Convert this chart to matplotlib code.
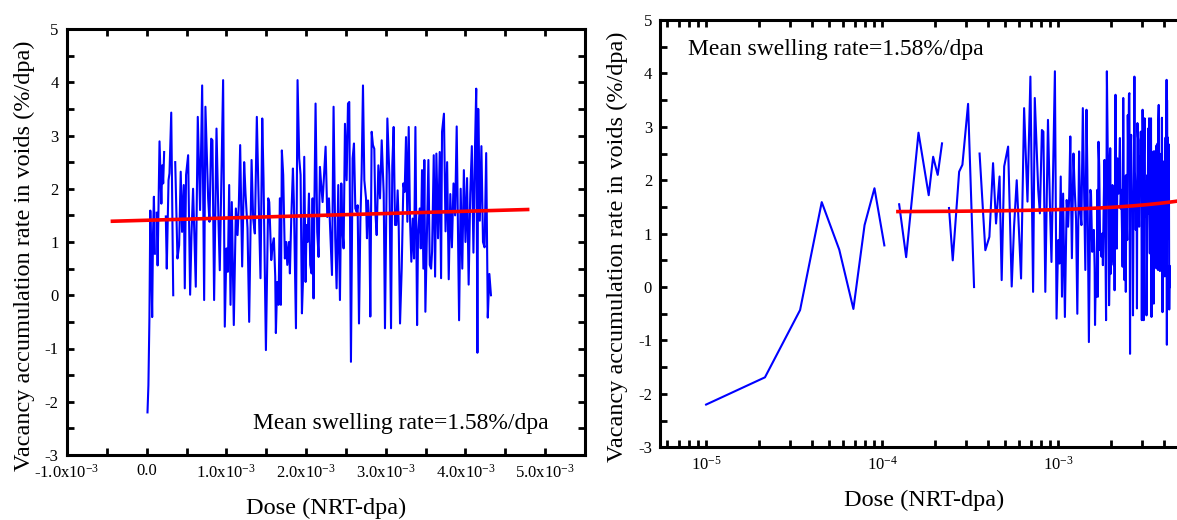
import numpy as np
import matplotlib
matplotlib.use("Agg")
import matplotlib.pyplot as plt
from matplotlib.ticker import FixedLocator, FixedFormatter, MultipleLocator, LogLocator, NullFormatter

plt.rcParams['font.family'] = ['Liberation Serif', 'DejaVu Serif']
plt.rcParams['mathtext.fontset'] = 'custom'
plt.rcParams['mathtext.rm'] = 'Liberation Serif'
plt.rcParams['mathtext.it'] = 'Liberation Serif:italic'
plt.rcParams['axes.unicode_minus'] = False

# ---- data (dose in units of 1e-3 NRT-dpa, rate in %/dpa); NaN = gap ----
dose_milli = [
    0.0100, 0.0216, 0.0342, 0.0454, 0.0571, 0.0687, 0.0795, 0.0905, 0.1030, 0.1140,
    0.1250, 0.1370, 0.1610, 0.1840, 0.1950, 0.2070, 0.2190, 0.2300, 0.2400, 0.2520,
    0.2740, 0.2860, 0.3080, 0.3330, 0.3450, 0.3580,
    0.386, 0.407, 0.427, 0.444, 0.465, 0.478, 0.494, 0.520, 0.545, 0.562,
    0.582, 0.616, 0.641, 0.670, 0.696, 0.721, 0.737, 0.771, 0.788, 0.809,
    0.825, 0.846, 0.876, 0.901, 0.917,
    0.959, 0.980, 1.001, 1.018, 1.035, 1.052, 1.068, 1.093, 1.119, 1.140,
    1.156, 1.173, 1.198, 1.223, 1.240, 1.265, 1.286, 1.316, 1.336, 1.357,
    1.382, 1.408, 1.428, 1.450, 1.466, 1.496, 1.525, 1.538, 1.563, 1.580,
    1.596, 1.613, 1.621, 1.638, 1.655, 1.671, 1.684, 1.696, 1.713, 1.734,
    1.751, 1.764, 1.785, 1.797, 1.814, 1.835, 1.847, 1.873, 1.893,
    1.914, 1.931, 1.948, 1.960, 1.977, 1.994, 2.006, 2.019, 2.036, 2.052,
    2.069, 2.082, 2.094, 2.103, 2.119, 2.140, 2.157, 2.174, 2.190, 2.207,
    2.228, 2.245, 2.266, 2.287, 2.303, 2.325, 2.345, 2.366, 2.383, 2.404,
    2.425, 2.442, 2.455, 2.471, 2.488, 2.509, 2.526, 2.542, 2.563, 2.584,
    2.601, 2.618, 2.634, 2.647, 2.664, 2.681, 2.697, 2.714, 2.731, 2.752,
    2.764, 2.777, 2.794, 2.806, 2.823, 2.839,
    2.856, 2.869, 2.886, 2.907, 2.928, 2.949, 2.974, 2.990, 3.020, 3.045,
    3.066, 3.082, 3.099, 3.116, 3.133, 3.149, 3.162, 3.179, 3.200, 3.221,
    3.237, 3.254, 3.271, 3.288, 3.304, 3.321, 3.338, 3.355, 3.372, 3.393,
    3.405, 3.426, 3.439, 3.455, 3.472, 3.484, 3.497, 3.514, 3.535, 3.552,
    3.569, 3.581, 3.602, 3.619, 3.635, 3.656, 3.677, 3.694, 3.706,
    3.730, 3.750, 3.770, 3.790, 3.810, 3.830, 3.850, 3.870, 3.890, 3.920,
    3.940, 3.960, 3.980, 4.000, 4.020, 4.040, 4.060, 4.080, 4.100, 4.120,
    4.135, 4.150, 4.160, 4.180, 4.200, 4.220, 4.240, 4.260, 4.280, 4.300,
    4.320,
]
rate = [
    -2.20, -1.69, -0.43, 1.59, 0.70, -0.41, 1.16, 1.85, 0.78, np.nan,
    1.55, 0.56, 2.89, 1.72, 2.44, 2.10, 2.69, np.nan, 1.48, 0.50,
    2.16, 2.29, 3.43, 0.00, np.nan, 2.50,
    0.69, 0.94, 2.32, 1.19, 2.07, 0.13, 2.26, 2.63, 0.01, 1.13,
    2.00, 0.16, 3.35, 1.60, 3.94, -0.09, 3.54, 1.82, 1.38, 2.94,
    2.91, -0.09, 3.13, 1.38, 0.47,
    4.04, -0.59, 0.88, 0.44, 2.07, -0.18, 1.75, -0.56, 1.63, 1.13,
    1.69, 2.82, 0.54, 2.50, 1.91, 1.26, -0.50, 2.54, 1.44, 1.16,
    3.35, 1.57, 0.32, 3.32, 2.19, -1.03, 1.82, 1.75, 0.66, 0.94,
    1.07, 0.35, -0.71, 0.25, -0.18, 1.82, -0.18, 2.72, 2.26, 0.69,
    1.00, 0.57, 1.00, 0.41, 1.44, 2.38, 1.75, -0.62, 4.04,
    2.57, 2.26, -0.34, 0.22, 2.60, 0.25, 1.32, 1.00, 1.91, 0.57,
    0.41, 1.82, -0.06, 1.50, 3.60, 1.19, 0.72, 2.41, 2.07, 1.75,
    2.32, 2.79, 1.47, 1.82, 1.22, 0.38, 3.54, 1.07, 0.13, 2.07,
    -0.09, 2.10, 1.26, 0.88, 3.22, 2.16, 3.60, 3.63, -1.25, 2.57,
    2.85, 1.63, 1.57, 1.69, -0.53, 1.38, 2.29, 3.94, 2.16, 1.82,
    1.07, 1.78, 1.35, -0.40, 3.07, 2.82,
    2.75, 1.57, 1.13, 2.44, 1.82, 2.91, 1.91, -0.62, 3.32, 2.26,
    -0.62, 2.44, 3.16, 1.32, 1.32, 1.97, 1.35, -0.53, 0.50, 2.10,
    1.94, 2.97, 1.38, 3.16, 1.44, 0.63, 1.44, 0.69, 3.16, -0.56,
    1.13, 1.63, 0.88, 2.35, 0.50, 2.54, -0.31, 0.94, 2.54, 0.57,
    0.50, 0.82, 2.63, 0.35, 2.66, 1.07, 2.69, 0.32, 3.07,
    3.41, 1.20, 2.50, 0.30, 1.90, 0.90, 2.10, 1.50, 3.17, -0.47,
    2.00, 0.50, 2.35, 1.00, 2.20, 0.20, 1.90, 2.80, 0.80, 2.80,
    3.88, -1.08, 3.50, 1.40, 2.80, 1.00, 0.90, 2.67, -0.42, 0.40,
    0.00,
]

# linear fit (mean swelling rate) end points
fit_dose_milli = [-0.43, 4.78]
fit_rate = [1.39, 1.61]
fit_log_start_milli = 0.123

annotation = "Mean swelling rate=1.58%/dpa"
left_xticks_milli = [-1.0, 0.0, 1.0, 2.0, 3.0, 4.0, 5.0]
left_xticklabels = [r'-1.0x10$^{-3}$', '0.0', r'1.0x10$^{-3}$', r'2.0x10$^{-3}$',
                    r'3.0x10$^{-3}$', r'4.0x10$^{-3}$', r'5.0x10$^{-3}$']
right_xticks = [1e-5, 1e-4, 1e-3]
right_xticklabels = [r'10$^{-5}$', r'10$^{-4}$', r'10$^{-3}$']
yticks = [-3, -2, -1, 0, 1, 2, 3, 4, 5]

dose = np.array(dose_milli) * 1e-3
vals = np.array(rate, dtype=float)

BLUE = '#0000ff'
RED = '#ff0000'

fig = plt.figure(figsize=(11.77, 5.20), dpi=100)
W, H = 1177.0, 520.0
axL = fig.add_axes([67 / W, 1 - 455 / H, (585 - 67) / W, (455 - 29) / H])
axR = fig.add_axes([660.4 / W, 1 - 447.3 / H, 528.0 / W, (447.3 - 20) / H])

label_fs = 17.5
tick_fs = 12

def style(ax):
    for s in ax.spines.values():
        s.set_linewidth(2.2)
    ax.tick_params(which='both', direction='in', top=True, right=True,
                   width=2.0, labelsize=tick_fs, pad=6)
    ax.tick_params(which='major', length=5)
    ax.tick_params(which='minor', length=5)
    ax.set_ylim(-3, 5)
    ax.yaxis.set_major_locator(FixedLocator(yticks))
    ax.yaxis.set_minor_locator(MultipleLocator(0.5))
    ax.set_ylabel('Vacancy accumulation rate in voids (%/dpa)', fontsize=label_fs)
    ax.set_xlabel('Dose (NRT-dpa)', fontsize=label_fs, labelpad=12)

# Left panel: linear dose
axL.plot(dose, vals, color=BLUE, lw=1.5)
fit_x = np.array(fit_dose_milli) * 1e-3
axL.plot(fit_x, fit_rate, color=RED, lw=2.6)
axL.set_xlim(-1.0e-3, 5.5e-3)
axL.xaxis.set_major_locator(FixedLocator(np.array(left_xticks_milli) * 1e-3))
axL.xaxis.set_major_formatter(FixedFormatter(left_xticklabels))
axL.xaxis.set_minor_locator(MultipleLocator(0.5e-3))
style(axL)
axL.yaxis.set_label_coords(-0.061, 0.467)
axL.text(0.36, 0.075, annotation, transform=axL.transAxes, fontsize=17,
         ha='left', va='center')

# Right panel: log dose
axR.plot(dose, vals, color=BLUE, lw=1.5)
xr = np.geomspace(fit_log_start_milli, fit_dose_milli[1], 200)
yr = np.interp(xr, fit_dose_milli, fit_rate)
axR.plot(xr * 1e-3, yr, color=RED, lw=2.6)
axR.set_xscale('log')
axR.set_xlim(5.5e-6, 5.5e-3)
axR.xaxis.set_major_locator(FixedLocator(right_xticks))
axR.xaxis.set_major_formatter(FixedFormatter(right_xticklabels))
axR.xaxis.set_minor_locator(LogLocator(base=10, subs=np.arange(2, 10), numticks=20))
axR.xaxis.set_minor_formatter(NullFormatter())
style(axR)
axR.yaxis.set_label_coords(-0.062, 0.47)
axR.text(0.053, 0.93, annotation, transform=axR.transAxes, fontsize=17,
         ha='left', va='center')

fig.savefig('out.png', dpi=100)
